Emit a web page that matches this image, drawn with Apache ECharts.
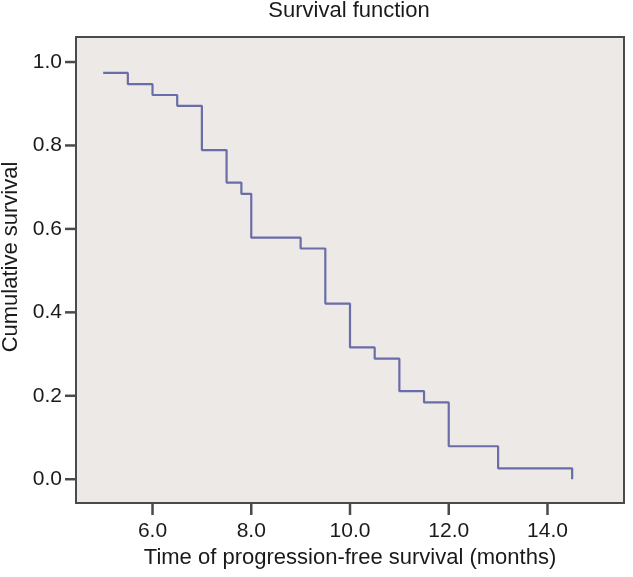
<!DOCTYPE html>
<html>
<head>
<meta charset="utf-8">
<script src="https://cdn.jsdelivr.net/npm/echarts@6/dist/echarts.min.js"></script>
<style>html,body{margin:0;padding:0;background:#fff}#c{width:633px;height:577px}</style>
</head>
<body>
<div id="c"></div>
<script>
// Kaplan-Meier step points (time in months, cumulative survival)
const times = [5.0, 5.5, 6.0, 6.5, 7.0, 7.5, 7.8, 8.0, 9.0, 9.5, 10.0, 10.5, 11.0, 11.5, 12.0, 13.0, 14.5];
const survival = [0.974, 0.947, 0.921, 0.895, 0.789, 0.711, 0.684, 0.579, 0.553, 0.421, 0.316, 0.289, 0.211, 0.184, 0.079, 0.026, 0.0];
const xTicks = [6, 8, 10, 12, 14];
const yTicks = [0, 0.2, 0.4, 0.6, 0.8, 1.0];

const xMin = 4.45, xMax = 15.55, yMin = -0.057, yMax = 1.06;
const chart = echarts.init(document.getElementById('c'), null, {renderer: 'canvas'});
const font = '"Liberation Sans", Arial, sans-serif';
const edge = '#4a4a4a';
const txt = '#1a1a1a';
chart.setOption({
  animation: false,
  backgroundColor: '#ffffff',
  title: {
    text: 'Survival function',
    left: 344, top: -5, textAlign: 'center',
    textStyle: {fontFamily: font, fontSize: 22, fontWeight: 'normal', color: txt}
  },
  grid: {
    left: 76, right: 9, top: 37, bottom: 74, outerBoundsMode: 'none',
    show: true, backgroundColor: '#ede9e6', borderColor: edge, borderWidth: 2
  },
  xAxis: {
    type: 'value', min: xMin, max: xMax,
    name: 'Time of progression-free survival (months)',
    nameLocation: 'middle', nameGap: 41,
    nameTextStyle: {fontFamily: font, fontSize: 22, color: txt},
    axisLine: {show: false, onZero: false}, splitLine: {show: false}, axisTick: {show: false},
    axisLabel: {customValues: xTicks, margin: 18, fontFamily: font, fontSize: 21, color: txt,
      formatter: v => v.toFixed(1)}
  },
  yAxis: {
    type: 'value', min: yMin, max: yMax,
    name: 'Cumulative survival',
    nameLocation: 'middle', nameGap: 54, nameRotate: 90,
    nameTextStyle: {fontFamily: font, fontSize: 22, color: txt, padding: [0, 0, 0, 26]},
    axisLine: {show: false, onZero: false}, splitLine: {show: false}, axisTick: {show: false},
    axisLabel: {customValues: yTicks, margin: 14, fontFamily: font, fontSize: 21, color: txt,
      formatter: v => v.toFixed(1)}
  },
  series: [{
    type: 'line', step: 'end', symbol: 'none',
    data: times.map((t, i) => [t, survival[i]]),
    lineStyle: {color: '#6a6ea8', width: 2.2}
  }]
});

// tick marks placed through the axis scales
const tickStyle = {stroke: edge, lineWidth: 2.5};
const ticks = [];
xTicks.forEach(v => {
  const p = chart.convertToPixel({gridIndex: 0}, [v, yMin]);
  ticks.push({type: 'line', silent: true, z: 10,
    shape: {x1: p[0], y1: p[1], x2: p[0], y2: p[1] + 12}, style: tickStyle});
});
yTicks.forEach(v => {
  const p = chart.convertToPixel({gridIndex: 0}, [xMin, v]);
  ticks.push({type: 'line', silent: true, z: 10,
    shape: {x1: p[0] - 11, y1: p[1], x2: p[0], y2: p[1]}, style: tickStyle});
});
chart.setOption({graphic: ticks});
</script>
</body>
</html>
